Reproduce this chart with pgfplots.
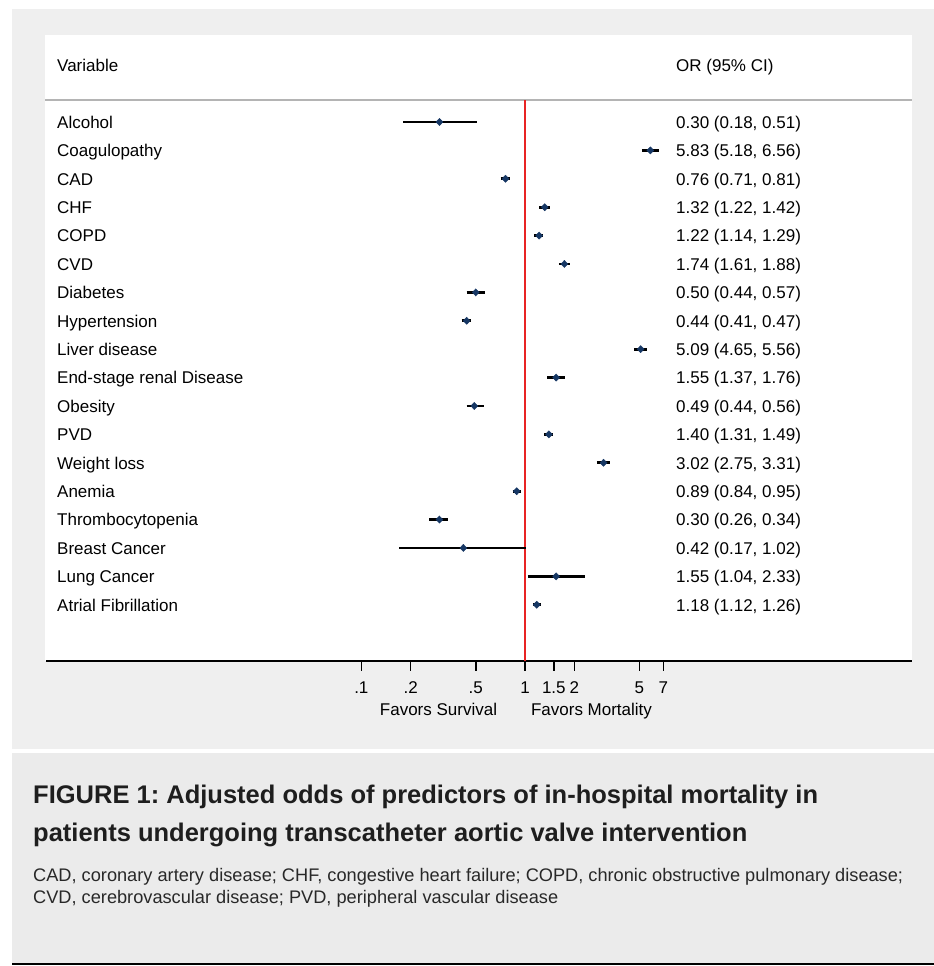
\documentclass[border=0pt]{standalone}
\usepackage{pgfplots}
\pgfplotsset{compat=1.18}
\usepackage{fontspec}
\setmainfont{Liberation Sans}
\frenchspacing
\definecolor{outergray}{RGB}{239,239,239}
\definecolor{capgray}{RGB}{235,235,235}
\definecolor{hdrline}{RGB}{180,180,180}
\definecolor{navy}{RGB}{22,55,100}
\definecolor{refred}{RGB}{232,36,36}
\definecolor{captxt}{RGB}{30,30,30}
\definecolor{foottxt}{RGB}{40,40,40}
\newcommand{\fs}{\fontsize{17bp}{20bp}\selectfont}
\begin{document}
\begin{tikzpicture}[x=1bp,y=1bp]
\useasboundingbox (0,0) rectangle (934,966);
\fill[outergray] (12,217.3) rectangle (934,957);
\fill[white] (45,305) rectangle (912,931);
\fill[capgray] (12,3) rectangle (934,213.3);
\draw[black, line width=2bp] (12,2) -- (934,2);
\draw[hdrline, line width=2bp] (45,866) -- (912,866);
\begin{axis}[at={(46bp,305bp)}, anchor=south west, scale only axis,
  width=866bp, height=561bp, xmode=log, xmin=0.001183, xmax=231.6,
  ymin=-19.98, ymax=-0.225, hide y axis, axis x line*=bottom,
  axis line style={line width=1.5bp, black},
  xtick={0.1,0.2,0.5,1,1.5,2,5,7}, xticklabels={}, xminorticks=false,
  tick align=outside, major tick length=10bp,
  every tick/.style={black, line width=1.5bp}, clip=false]
\addplot[refred, line width=1.4bp] coordinates {(1,-19.98) (1,-0.225)};
\addplot[black, line width=2.8bp, unbounded coords=jump, mark=none] coordinates {
(0.18,-1) (0.51,-1) (nan,nan)
(5.18,-2) (6.56,-2) (nan,nan)
(0.71,-3) (0.81,-3) (nan,nan)
(1.22,-4) (1.42,-4) (nan,nan)
(1.14,-5) (1.29,-5) (nan,nan)
(1.61,-6) (1.88,-6) (nan,nan)
(0.44,-7) (0.57,-7) (nan,nan)
(0.41,-8) (0.47,-8) (nan,nan)
(4.65,-9) (5.56,-9) (nan,nan)
(1.37,-10) (1.76,-10) (nan,nan)
(0.44,-11) (0.56,-11) (nan,nan)
(1.31,-12) (1.49,-12) (nan,nan)
(2.75,-13) (3.31,-13) (nan,nan)
(0.84,-14) (0.95,-14) (nan,nan)
(0.26,-15) (0.34,-15) (nan,nan)
(0.17,-16) (1.02,-16) (nan,nan)
(1.04,-17) (2.33,-17) (nan,nan)
(1.12,-18) (1.26,-18)
};
\addplot[only marks, mark=diamond*, mark size=3.6bp, mark options={xscale=1.3}, navy] coordinates {
(0.30,-1) (5.83,-2) (0.76,-3) (1.32,-4) (1.22,-5) (1.74,-6) (0.50,-7)
(0.44,-8) (5.09,-9) (1.55,-10) (0.49,-11) (1.40,-12) (3.02,-13)
(0.89,-14) (0.30,-15) (0.42,-16) (1.55,-17) (1.18,-18)
};
\node[anchor=base, font=\fs, inner sep=0] at ([yshift=-33bp]axis cs:0.1,-19.98) {.1};
\node[anchor=base, font=\fs, inner sep=0] at ([yshift=-33bp]axis cs:0.2,-19.98) {.2};
\node[anchor=base, font=\fs, inner sep=0] at ([yshift=-33bp]axis cs:0.5,-19.98) {.5};
\node[anchor=base, font=\fs, inner sep=0] at ([yshift=-33bp]axis cs:1,-19.98) {1};
\node[anchor=base, font=\fs, inner sep=0] at ([yshift=-33bp]axis cs:1.5,-19.98) {1.5};
\node[anchor=base, font=\fs, inner sep=0] at ([yshift=-33bp]axis cs:2,-19.98) {2};
\node[anchor=base, font=\fs, inner sep=0] at ([yshift=-33bp]axis cs:5,-19.98) {5};
\node[anchor=base, font=\fs, inner sep=0] at ([yshift=-33bp]axis cs:7,-19.98) {7};
\end{axis}
\node[anchor=base west, font=\fs, inner sep=0] at (57,894.7) {Variable};
\node[anchor=base west, font=\fs, inner sep=0] at (676,894.7) {OR (95\% CI)};
\foreach \lab/\ort [count=\i] in {
Alcohol/{0.30 (0.18, 0.51)},
Coagulopathy/{5.83 (5.18, 6.56)},
CAD/{0.76 (0.71, 0.81)},
CHF/{1.32 (1.22, 1.42)},
COPD/{1.22 (1.14, 1.29)},
CVD/{1.74 (1.61, 1.88)},
Diabetes/{0.50 (0.44, 0.57)},
Hypertension/{0.44 (0.41, 0.47)},
Liver disease/{5.09 (4.65, 5.56)},
End-stage renal Disease/{1.55 (1.37, 1.76)},
Obesity/{0.49 (0.44, 0.56)},
PVD/{1.40 (1.31, 1.49)},
Weight loss/{3.02 (2.75, 3.31)},
Anemia/{0.89 (0.84, 0.95)},
Thrombocytopenia/{0.30 (0.26, 0.34)},
Breast Cancer/{0.42 (0.17, 1.02)},
Lung Cancer/{1.55 (1.04, 2.33)},
Atrial Fibrillation/{1.18 (1.12, 1.26)}} {
  \node[anchor=base west, font=\fs, inner sep=0] at (57,{837.7-(\i-1)*28.4}) {\lab};
  \node[anchor=base west, font=\fs, inner sep=0] at (676,{837.7-(\i-1)*28.4}) {\ort};
}
\node[anchor=base, font=\fs, inner sep=0] at (438.5,250) {Favors Survival};
\node[anchor=base, font=\fs, inner sep=0] at (591.5,250) {Favors Mortality};
\node[anchor=base west, inner sep=0, text=captxt, font=\fontsize{25.5bp}{30bp}\selectfont\bfseries] at (33,162.7) {FIGURE 1: Adjusted odds of predictors of in-hospital mortality in};
\node[anchor=base west, inner sep=0, text=captxt, font=\fontsize{25.5bp}{30bp}\selectfont\bfseries] at (33,124.7) {patients undergoing transcatheter aortic valve intervention};
\node[anchor=base west, inner sep=0, text=foottxt, font=\fontsize{18.2bp}{21bp}\selectfont] at (33,84.7) {CAD, coronary artery disease; CHF, congestive heart failure; COPD, chronic obstructive pulmonary disease;};
\node[anchor=base west, inner sep=0, text=foottxt, font=\fontsize{18.2bp}{21bp}\selectfont] at (33,62.7) {CVD, cerebrovascular disease; PVD, peripheral vascular disease};
\end{tikzpicture}
\end{document}
